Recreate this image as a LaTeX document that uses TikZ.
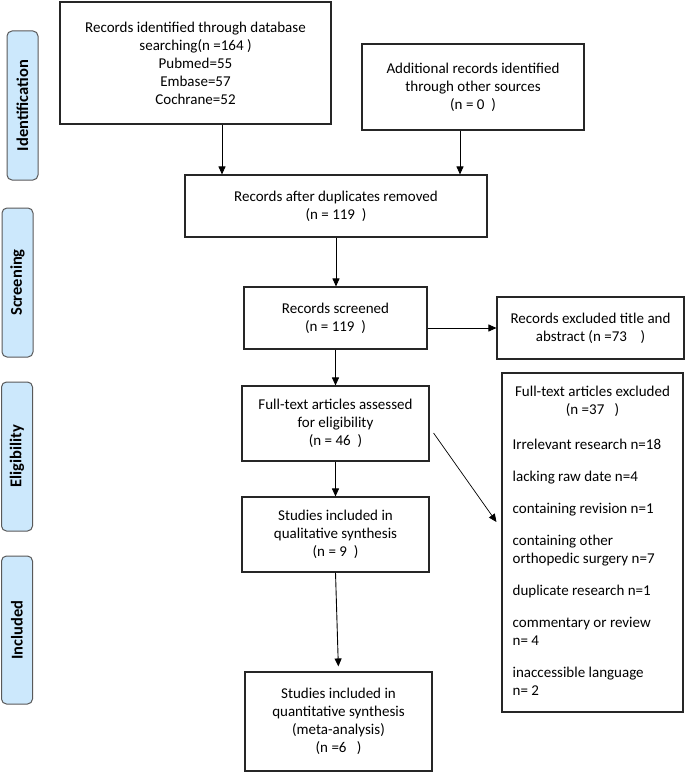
\documentclass[tikz,border=0pt]{standalone}
\usepackage{fontspec}
\setmainfont{Carlito}
\usetikzlibrary{arrows.meta}
\definecolor{phasecol}{RGB}{204,232,252}

\begin{document}
\begin{tikzpicture}[x=1pt,y=-1pt,>={Triangle[length=8pt,width=7pt]},
	box/.style={draw=black!85, line width=1.1pt, align=center, inner sep=0pt, font=\fontsize{15}{18}\selectfont},
	txt/.style={inner sep=0pt, font=\fontsize{15}{18}\selectfont},
	phase/.style={draw=black!65, fill=phasecol, rounded corners=5pt, line width=1pt, rotate=90, minimum height=31, inner sep=0pt, font=\fontsize{16.5}{18}\selectfont\bfseries},
	link/.style={->, line width=0.9pt}]
		\useasboundingbox (0,0) rectangle (685,773);
		%\draw [help lines] (0,0) grid (685,773);
		% Fasi
		\node [phase, minimum width=149] (ident) at (22.5,105.5) {Identification};
		\node [phase, minimum width=149] (screen) at (17.5,282.5) {Screening};
		\node [phase, minimum width=149] (elig) at (17,456.5) {Eligibility};
		\node [phase, minimum width=148] (incl) at (17,630) {Included};
		% Identificazione
		\node [box, minimum width=271, minimum height=122] (db) at (195.5,63) {Records identified through database\\searching(n =164 )\\Pubmed=55\\Embase=57\\Cochrane=52};
		\node [box, minimum width=222, minimum height=86] (other) at (473,87) {Additional records identified\\through other sources\\(n = 0\ \ )};
		\node [box, minimum width=302, minimum height=62] (dup) at (336,206) {Records after duplicates removed\\(n = 119\ \ )};
		% Screening
		\node [box, minimum width=183, minimum height=62] (screened) at (335.5,318) {Records screened\\(n = 119\ \ )};
		\node [box, minimum width=187, minimum height=62] (exclta) at (590.5,328) {Records excluded title and\\abstract (n =73\ \ \ \ )};
		% Eleggibilita
		\node [box, minimum width=187, minimum height=75] (fulltext) at (335.5,423.5) {Full-text articles assessed\\for eligibility\\(n = 46\ \ )};
		\node [box, minimum width=181, minimum height=339] (fullexcl) at (592.5,542.5) {};
		\node [txt, align=center, anchor=north] (fullhead) at ([yshift=-13.5pt]fullexcl.north) {Full-text articles excluded\\(n =37\ \ \ )};
		\node [txt, align=left, anchor=north west] (reasons) at ([shift={(11,66.5)}]fullexcl.north west) {Irrelevant research n=18\\[14pt]lacking raw date n=4\\[14pt]containing revision n=1\\[14pt]containing other\\orthopedic surgery n=7\\[14pt]duplicate research n=1\\[14pt]commentary or review\\n= 4\\[14pt]inaccessible language\\n= 2};
		% Inclusi
		\node [box, minimum width=187, minimum height=75] (qual) at (335.5,534.5) {Studies included in\\qualitative synthesis\\(n = 9\ \ )};
		\node [box, minimum width=187, minimum height=99] (quant) at (338.5,721.5) {Studies included in\\quantitative synthesis\\(meta-analysis)\\(n =6\ \ \ )};
		% Frecce
		\draw [link] ([xshift=26.5pt]db.south) -- ([xshift=26.5pt]db.south |- dup.north);
		\draw [link] ([xshift=-13pt]other.south) -- ([xshift=-13pt]other.south |- dup.north);
		\draw [link] (dup.south) -- (dup.south |- screened.north);
		\draw [link] (exclta.west -| screened.east) -- (exclta.west);
		\draw [link] (screened.south) -- (fulltext.north);
		\draw [link] (fulltext.south) -- (qual.north);
		\draw [link, shorten >=5pt] (qual.south) -- (quant.north);
		\draw [->, line width=0.7pt] ([shift={(4,9.5)}]fulltext.east) -- ([shift={(-5,-20.5)}]fullexcl.west);
	\end{tikzpicture}
\end{document}
